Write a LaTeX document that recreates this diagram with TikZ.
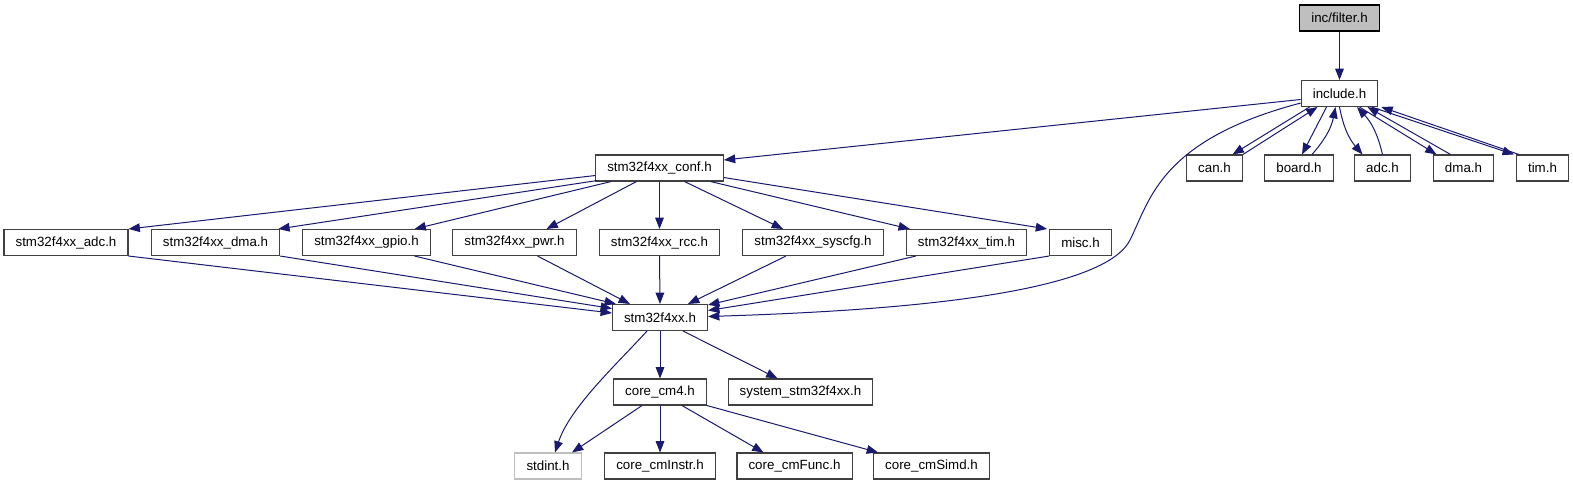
\documentclass[tikz,border=0pt]{standalone}
\usepackage{fontspec}
\setmainfont{Liberation Sans}
\usetikzlibrary{arrows.meta,calc}
\definecolor{midnightblue}{HTML}{191970}
\definecolor{boxgray}{HTML}{BFBFBF}

\begin{document}
\begin{tikzpicture}[x=0.75pt,y=-0.75pt,>={Triangle[length=8.5pt,width=6.5pt]},
  hdr/.style={draw=black!75,line width=0.8pt,fill=white,minimum height=19.5pt,
    inner xsep=8.7pt,inner ysep=0pt,font=\fontsize{10}{12}\selectfont},
  dep/.style={->,draw=midnightblue,line width=0.75pt}]
\useasboundingbox (0,0) rectangle (1573,485);
% headers, top to bottom
\node[hdr,fill=boxgray,draw=black] (filter) at (1339.5,18) {inc/filter.h};
\node[hdr] (inc) at (1339.5,93.5) {include.h};
\node[hdr] (conf) at (659.5,168) {stm32f4xx\_conf.h};
\foreach \n/\x/\t in {can/1214.5/can.h,board/1299/board.h,adcx/1382.5/adc.h,dmax/1463.5/dma.h,timx/1542.5/tim.h}
  \node[hdr] (\n) at (\x,168) {\t};
\foreach \n/\x/\t in {sadc/66/stm32f4xx\_adc.h,sdma/215.5/stm32f4xx\_dma.h,sgpio/366.5/stm32f4xx\_gpio.h,
    spwr/514.5/stm32f4xx\_pwr.h,srcc/659.5/stm32f4xx\_rcc.h,ssyscfg/813/stm32f4xx\_syscfg.h,
    stim/966.5/stm32f4xx\_tim.h,misc/1080.5/misc.h}
  \node[hdr] (\n) at (\x,242.5) {\t};
\node[hdr] (stm) at (660,317.5) {stm32f4xx.h};
\node[hdr] (cm4) at (660,392) {core\_cm4.h};
\node[hdr] (sys) at (800.5,392) {system\_stm32f4xx.h};
\node[hdr,draw=boxgray] (stdint) at (548,466) {stdint.h};
\foreach \n/\x/\t in {instr/660/core\_cmInstr.h,func/794.5/core\_cmFunc.h,simd/931.5/core\_cmSimd.h}
  \node[hdr] (\n) at (\x,466) {\t};

% include.h and its neighbours
\draw[dep] (filter.south) -- (inc.north);
\draw[dep] ($(inc.west)+(0,6)$) -- ($(conf.east)+(0,-8)$);
\draw[dep] ($(inc.south west)+(0,-4)$) .. controls (1160,140) and (1150,200) .. (1130,240)
  .. controls (1100,300) and (850,312) .. ($(stm.east)+(0,-1)$);
\draw[dep] ($(inc.south)+(-30,0)$) -- ($(can.north)+(18,0)$);
\draw[dep] (can.north east) -- ($(inc.south)+(-22,0)$);
\draw[dep] ($(inc.south)+(-13,0)$) -- ($(board.north)+(3,0)$);
\draw[dep] ($(board.north)+(13,0)$) to[bend right=15] ($(inc.south)+(-4,0)$);
\draw[dep] (inc.south) to[bend right=15] ($(adcx.north)+(-20,0)$);
\draw[dep] (adcx.north) to[bend right=15] ($(inc.south)+(17.5,0)$);
\draw[dep] ($(inc.south)+(20,0)$) -- ($(dmax.north)+(-27,0)$);
\draw[dep] ($(dmax.north)+(-13,0)$) -- ($(inc.south)+(28,0)$);
\draw[dep] ($(inc.south)+(32,0)$) -- ($(timx.north west)+(-2,0)$);
\draw[dep] ($(timx.north west)+(3,0)$) -- ($(inc.south east)+(3,0)$);

% stm32f4xx_conf.h
\draw[dep] ($(conf.south west)+(0,-6)$) -- (sadc.north east);
\draw[dep] ($(conf.south west)+(2,-1)$) -- ($(sdma.north east)+(-2,0)$);
\draw[dep] ($(conf.south west)+(16,0)$) -- ($(sgpio.north)+(48,0)$);
\draw[dep] ($(conf.south)+(-23,0)$) -- ($(spwr.north)+(32,0)$);
\draw[dep] (conf.south) -- (srcc.north);
\draw[dep] ($(conf.south)+(25,0)$) -- ($(ssyscfg.north)+(-30,0)$);
\draw[dep] ($(conf.south)+(51,0)$) -- ($(stim.north west)+(4,0)$);
\draw[dep] ($(conf.south east)+(0,-4)$) -- ($(misc.north west)+(-2,0)$);

% into stm32f4xx.h
\draw[dep] (sadc.south east) -- ($(stm.west)+(0,-4.5)$);
\draw[dep] (sdma.south east) -- ($(stm.west)+(0,-9)$);
\draw[dep] ($(sgpio.south)+(48,0)$) -- ($(stm.north west)+(4,0)$);
\draw[dep] ($(spwr.south)+(23,0)$) -- ($(stm.north west)+(18,0)$);
\draw[dep] (srcc.south) -- (stm.north);
\draw[dep] ($(ssyscfg.south)+(-27,0)$) -- ($(stm.north)+(28,0)$);
\draw[dep] ($(stim.south west)+(10,0)$) -- ($(stm.north east)+(0,1)$);
\draw[dep] (misc.south west) -- ($(stm.east)+(0,-7)$);

% bottom part
\draw[dep] ($(stm.south)+(-13,0)$) .. controls +(-32,35) and +(15,-45) .. ($(stdint.north)+(7,0)$);
\draw[dep] (stm.south) -- (cm4.north);
\draw[dep] ($(stm.south)+(23,0)$) -- ($(sys.north)+(-23,0)$);
\draw[dep] ($(cm4.south)+(-18,0)$) -- ($(stdint.north)+(24,0)$);
\draw[dep] (cm4.south) -- (instr.north);
\draw[dep] ($(cm4.south)+(22,0)$) -- ($(func.north)+(-31,0)$);
\draw[dep] (cm4.south east) -- ($(simd.north west)+(5,0)$);
\end{tikzpicture}
\end{document}
